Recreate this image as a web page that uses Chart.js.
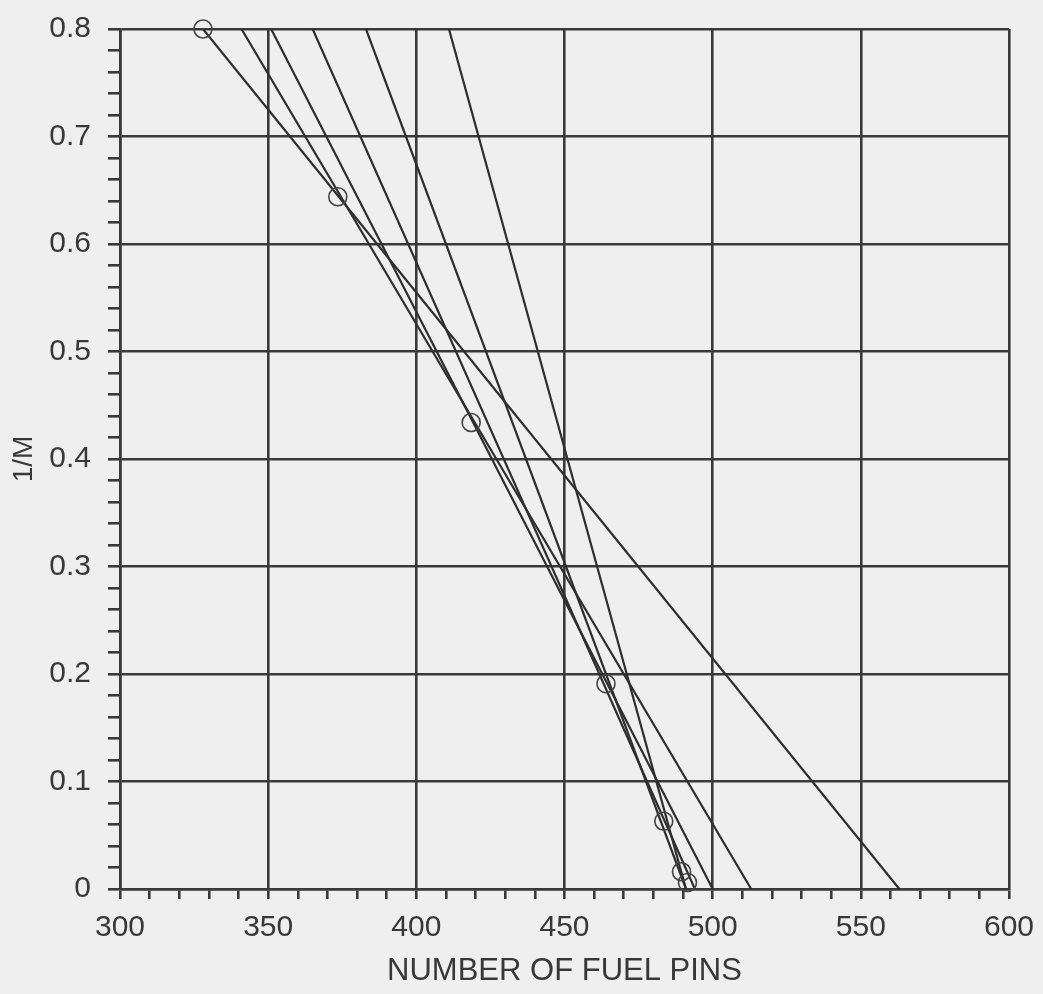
<!DOCTYPE html>
<html>
<head>
<meta charset="utf-8">
<script src="https://cdn.jsdelivr.net/npm/chart.js@4/dist/chart.umd.min.js"></script>
<style>
  html, body { margin: 0; padding: 0; background: #efefef; }
  #wrap { width: 1043px; height: 994px; position: relative; }
</style>
</head>
<body>
<div id="wrap"><canvas id="myChart"></canvas></div>
<script>
// measured points (1/M vs pins loaded)
const pins = [328, 373.5, 418.5, 464, 483.5, 489.5, 491.5];
const invM = [0.8, 0.644, 0.434, 0.191, 0.063, 0.016, 0.006];

// extrapolation lines: pins where each line sits at 1/M = 0.8 and where it reaches 0
const lineLevels = [0.8, 0];
const extrapTopX = [328, 341, 351, 365, 383, 411];
const extrapZeroX = [563, 513, 500, 494, 491, 491];

const ink = "#2e2e2e";
const gridInk = "#393939";

function isMajor(v, step) {
  return Math.abs(v / step - Math.round(v / step)) < 1e-6;
}

const datasets = [{
  type: "scatter",
  data: pins.map((p, i) => ({x: p, y: invM[i]})),
  pointStyle: "circle",
  pointRadius: 9,
  pointBorderWidth: 1.6,
  pointBorderColor: "#444",
  pointBackgroundColor: "rgba(0,0,0,0)",
  showLine: false,
  clip: false
}];

extrapTopX.forEach((x0, i) => {
  datasets.push({
    type: "line",
    data: [{x: x0, y: lineLevels[0]}, {x: extrapZeroX[i], y: lineLevels[1]}],
    borderColor: ink,
    borderWidth: 2.2,
    pointRadius: 0,
    fill: false
  });
});

new Chart("myChart", {
  data: {datasets: datasets},
  options: {
    responsive: true,
    maintainAspectRatio: false,
    animation: false,
    layout: {padding: {top: 29, right: 34, left: 0, bottom: 0}},
    plugins: {legend: {display: false}, tooltip: {enabled: false}},
    scales: {
      x: {
        type: "linear",
        min: 300,
        max: 600,
        afterFit: (s) => { s.height = 105; s.paddingLeft = 0; s.paddingRight = 0; },
        ticks: {
          stepSize: 10,
          autoSkip: false,
          maxRotation: 0,
          padding: 11,
          color: "#383838",
          font: {family: "Liberation Sans", size: 30},
          callback: (v) => isMajor(v, 50) ? String(v) : ""
        },
        grid: {
          lineWidth: 2.6,
          tickLength: 10,
          color: (ctx) => ctx.tick && isMajor(ctx.tick.value, 50) ? gridInk : "rgba(0,0,0,0)",
          tickColor: gridInk
        },
        border: {color: gridInk, width: 2.6},
        title: {
          display: true,
          text: "NUMBER OF FUEL PINS",
          color: "#383838",
          font: {family: "Liberation Sans", size: 31},
          padding: {top: 0, bottom: 4}
        }
      },
      y: {
        type: "linear",
        min: 0,
        max: 0.8,
        afterFit: (s) => { s.width = 120; s.paddingTop = 0; s.paddingBottom = 0; },
        ticks: {
          stepSize: 0.02,
          autoSkip: false,
          padding: 17,
          color: "#383838",
          font: {family: "Liberation Sans", size: 30},
          callback: (v) => isMajor(v, 0.1) ? (v === 0 ? "0" : v.toFixed(1)) : ""
        },
        grid: {
          lineWidth: 2.6,
          tickLength: 12,
          color: (ctx) => ctx.tick && isMajor(ctx.tick.value, 0.1) ? gridInk : "rgba(0,0,0,0)",
          tickColor: gridInk
        },
        border: {color: gridInk, width: 2.6},
        title: {
          display: true,
          text: "1/M",
          color: "#383838",
          font: {family: "Liberation Sans", size: 28},
          padding: {top: 7, bottom: 0}
        }
      }
    }
  }
});
</script>
</body>
</html>
